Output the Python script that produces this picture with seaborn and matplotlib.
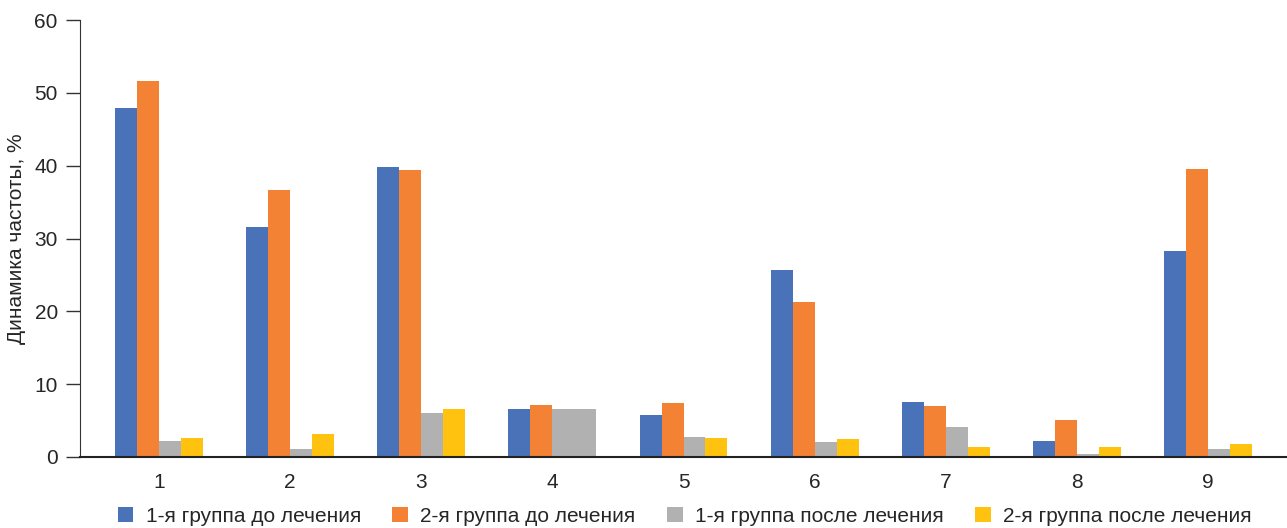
import pandas as pd
import numpy as np
import matplotlib
matplotlib.use("Agg")
import matplotlib.pyplot as plt
import seaborn as sns
from matplotlib.patches import Patch

categories = ["1", "2", "3", "4", "5", "6", "7", "8", "9"]
series = ["1-я группа до лечения", "2-я группа до лечения",
          "1-я группа после лечения", "2-я группа после лечения"]
g1_before = [47.9, 31.6, 39.8, 6.6, 5.8, 25.7, 7.6, 2.2, 28.3]
g2_before = [51.6, 36.7, 39.4, 7.1, 7.4, 21.3, 7.0, 5.1, 39.5]
g1_after = [2.2, 1.1, 6.0, 6.6, 2.7, 2.0, 4.1, 0.4, 1.1]
g2_after = [2.6, 3.2, 6.6, 6.6, 2.6, 2.5, 1.4, 1.4, 1.8]
colors = ["#4A72B8", "#F48235", "#B1B1B1", "#FFC20E"]

df = pd.DataFrame({
    "cat": categories * 4,
    "series": np.repeat(series, len(categories)),
    "value": g1_before + g2_before + g1_after + g2_after,
})

sns.set_style("white")
plt.rcParams["font.family"] = ["Liberation Sans", "DejaVu Sans"]

fig = plt.figure(figsize=(12.87, 5.28), dpi=100)
ax = fig.add_axes([80 / 1287, 71 / 528, 1207 / 1287, 437 / 528])
sns.barplot(data=df, x="cat", y="value", hue="series", order=categories,
            hue_order=series, palette=colors, width=0.67, gap=0,
            saturation=1, errorbar=None, linewidth=0, ax=ax, legend=False)

# в 4-й группе столбец «2-я группа после лечения» на исходнике серый
n = len(categories)
ax.patches[3 * n + 3].set_facecolor(colors[2])

ax.set_xlim(-0.6, 8.6)
ax.set_ylim(0, 60)
ax.set_yticks(range(0, 61, 10))
ax.tick_params(axis="y", left=True, length=10, width=1, color="#333333",
               labelsize=15, pad=6)
ax.tick_params(axis="x", bottom=False, labelsize=15, pad=8)
for s in ["top", "right"]:
    ax.spines[s].set_visible(False)
ax.spines["left"].set_color("#333333")
ax.spines["bottom"].set_color("#222222")
ax.spines["bottom"].set_linewidth(1.5)
ax.set_xlabel("")
ax.set_ylabel("Динамика частоты, %", fontsize=15, labelpad=6)

handles = [Patch(facecolor=c, edgecolor="none") for c in colors]
fig.legend(handles, series, loc="lower center", bbox_to_anchor=(0.532, -0.031),
           ncol=4, frameon=False, fontsize=15, handlelength=0.75,
           handleheight=0.75, handletextpad=0.6, columnspacing=1.5)

fig.savefig("out.png", dpi=100)
